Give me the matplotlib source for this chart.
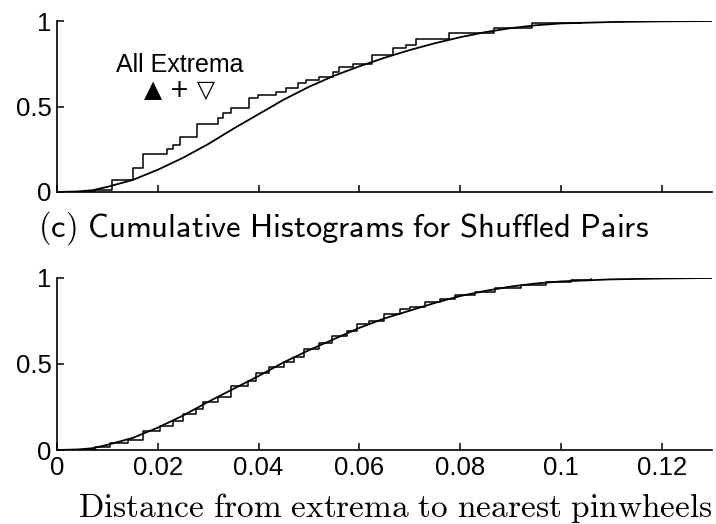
import matplotlib
matplotlib.use("Agg")
from matplotlib import pyplot as plt

plt.rcParams['mathtext.fontset'] = 'cm'

# top panel: all extrema
top_fit_x = [0, 0.004, 0.007, 0.010, 0.015, 0.020, 0.025, 0.030, 0.035, 0.040, 0.045,
             0.050, 0.055, 0.060, 0.065, 0.070, 0.075, 0.080, 0.085, 0.090, 0.095,
             0.100, 0.110, 0.120, 0.130]
top_fit_y = [0, 0.003, 0.01, 0.03, 0.07, 0.13, 0.20, 0.28, 0.37, 0.455, 0.54,
             0.615, 0.68, 0.735, 0.785, 0.83, 0.87, 0.905, 0.935, 0.958, 0.975,
             0.986, 0.994, 0.998, 1.0]
top_step_x = [0, 0.0075, 0.0109, 0.0150, 0.0170, 0.0218, 0.0230, 0.0244, 0.0277, 0.0319,
              0.0329, 0.0346, 0.0382, 0.0398, 0.0435, 0.0455, 0.0478, 0.0495, 0.0520,
              0.0547, 0.0560, 0.0587, 0.0626, 0.0666, 0.0693, 0.0713, 0.0778, 0.0867,
              0.0943, 0.1040]
top_step_y = [0, 0.01, 0.07, 0.14, 0.22, 0.25, 0.275, 0.32, 0.40, 0.43,
              0.46, 0.49, 0.55, 0.57, 0.585, 0.61, 0.64, 0.655, 0.675,
              0.70, 0.73, 0.75, 0.80, 0.84, 0.86, 0.895, 0.93, 0.96,
              0.99, 0.99]

# bottom panel: shuffled pairs
bot_fit_x = [0, 0.004, 0.007, 0.010, 0.015, 0.020, 0.025, 0.030, 0.035, 0.040, 0.045,
             0.050, 0.055, 0.060, 0.065, 0.070, 0.075, 0.080, 0.085, 0.090, 0.095,
             0.100, 0.110, 0.120, 0.130]
bot_fit_y = [0, 0.003, 0.01, 0.03, 0.07, 0.13, 0.20, 0.28, 0.355, 0.43, 0.51,
             0.58, 0.645, 0.71, 0.765, 0.81, 0.855, 0.895, 0.925, 0.95, 0.968,
             0.98, 0.992, 0.997, 1.0]
bot_step_x = [0, 0.0075, 0.0105, 0.0140, 0.0170, 0.0205, 0.0230, 0.0250, 0.0275, 0.0290,
              0.0320, 0.0345, 0.0380, 0.0395, 0.0420, 0.0450, 0.0470, 0.0490, 0.0520,
              0.0545, 0.0575, 0.0595, 0.0620, 0.0650, 0.0680, 0.0700, 0.0730, 0.0760,
              0.0790, 0.0830, 0.0870, 0.0920, 0.0970, 0.1020, 0.1060]
bot_step_y = [0, 0.02, 0.04, 0.06, 0.11, 0.14, 0.17, 0.21, 0.24, 0.28,
              0.31, 0.37, 0.40, 0.45, 0.48, 0.51, 0.54, 0.59, 0.62,
              0.66, 0.69, 0.73, 0.75, 0.79, 0.82, 0.83, 0.86, 0.88,
              0.90, 0.92, 0.94, 0.96, 0.975, 0.99, 0.995]

xticks = [0, 0.02, 0.04, 0.06, 0.08, 0.1, 0.12]
xticklabels = ["0", "0.02", "0.04", "0.06", "0.08", "0.1", "0.12"]
yticks = [0, 0.5, 1]
yticklabels = ["0", "0.5", "1"]

fig = plt.figure(figsize=(7.16, 5.24), dpi=100)
ax1 = fig.add_axes([0.0796, 0.6336, 0.9148, 0.3263])
ax2 = fig.add_axes([0.0796, 0.1412, 0.9148, 0.3283])

tickfont = dict(family=['Liberation Sans', 'DejaVu Sans'], size=18.5)

for ax, fx, fy, sx, sy in [(ax1, top_fit_x, top_fit_y, top_step_x, top_step_y),
                           (ax2, bot_fit_x, bot_fit_y, bot_step_x, bot_step_y)]:
    ax.plot(fx, fy, color='black', lw=1.3)
    ax.step(sx + [sx[-1]], sy + [sy[-1]], where='post', color='black', lw=1.1)
    ax.set_xlim(0, 0.13)
    ax.set_ylim(0, 1)
    ax.spines['top'].set_visible(False)
    ax.spines['right'].set_visible(False)
    ax.spines['left'].set_linewidth(1.2)
    ax.spines['bottom'].set_linewidth(1.2)
    ax.set_xticks(xticks)
    ax.set_yticks(yticks)
    ax.set_yticklabels(yticklabels, fontdict=tickfont)
    ax.tick_params(direction='in', length=5, width=1.1, pad=4)
    ax.patch.set_visible(False)

ax1.set_xticklabels([])
ax2.set_xticklabels(xticklabels, fontdict=tickfont)

ax1.text(0.0244, 0.743, "All Extrema", ha='center', va='center',
         family=['Liberation Sans', 'DejaVu Sans'], fontsize=18)
ax1.text(0.0244, 0.596, "\u25b2 + \u25bd", ha='center', va='center',
         family=['DejaVu Sans'], fontsize=17)

fig.text(0.053, 0.565, r"$\mathsf{(c)\ Cumulative\ Histograms\ for\ Shuffled\ Pairs}$",
         ha='left', va='center', fontsize=23.5)
fig.text(0.552, 0.014, r"$\mathrm{Distance\ from\ extrema\ to\ nearest\ pinwheels}$",
         ha='center', va='baseline', fontsize=24)

fig.savefig("out.png", dpi=100)
